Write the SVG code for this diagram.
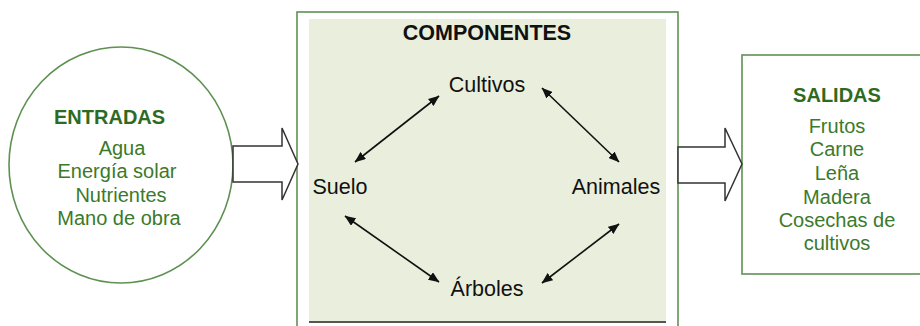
<svg xmlns="http://www.w3.org/2000/svg" width="920" height="326" viewBox="0 0 920 326">
<defs>
<marker id="ah" viewBox="0 0 11 9" refX="10.5" refY="4.5" markerWidth="11" markerHeight="9" markerUnits="userSpaceOnUse" orient="auto-start-reverse">
<path d="M0,0 L11,4.5 L0,9 Z" fill="#111"/>
</marker>
<style>
.g{font-family:"Liberation Sans",Arial,sans-serif;font-size:20px;fill:#3b7a2a;text-anchor:middle}
.gh{font-family:"Liberation Sans",Arial,sans-serif;font-size:20px;font-weight:bold;fill:#2e6b22}
.c{font-family:"Liberation Sans",Arial,sans-serif;font-size:21.5px;fill:#111;text-anchor:middle}
.border{fill:none;stroke:#5d9150;stroke-width:1.6}
.blk{fill:#fff;stroke:#333;stroke-width:1.5;stroke-linejoin:miter}
.lnk{stroke:#111;stroke-width:1.6;fill:none;marker-start:url(#ah);marker-end:url(#ah)}
</style>
</defs>
<rect width="920" height="326" fill="#fff"/>

<g id="entradas">
<ellipse cx="121" cy="165" rx="112" ry="118" fill="#fff" class="border"/>
<text class="gh" x="54" y="124">ENTRADAS</text>
<text class="g" x="122" y="155">Agua</text>
<text class="g" x="117" y="178">Energía solar</text>
<text class="g" x="121" y="202">Nutrientes</text>
<text class="g" x="119" y="225">Mano de obra</text>
</g>

<g id="componentes">
<rect x="297" y="12" width="381" height="330" fill="#fff" class="border"/>
<rect x="309" y="19" width="357" height="303" fill="#e9efdc"/>
<line x1="309" y1="322" x2="666" y2="322" stroke="#555" stroke-width="2"/>
<text x="487" y="40" font-family="'Liberation Sans',Arial,sans-serif" font-size="21.5" font-weight="bold" fill="#111" text-anchor="middle">COMPONENTES</text>
</g>

<g id="cultivos"><text class="c" x="487" y="92">Cultivos</text></g>
<g id="suelo"><text class="c" x="340" y="194">Suelo</text></g>
<g id="animales"><text class="c" x="616" y="194">Animales</text></g>
<g id="arboles"><text class="c" x="487" y="296">Árboles</text></g>

<g id="salidas">
<rect x="742" y="55" width="190" height="219" fill="#fff" class="border"/>
<text class="gh" x="837" y="102" text-anchor="middle">SALIDAS</text>
<text class="g" x="837" y="133">Frutos</text>
<text class="g" x="837" y="156">Carne</text>
<text class="g" x="837" y="180">Leña</text>
<text class="g" x="837" y="204">Madera</text>
<text class="g" x="837" y="227">Cosechas de</text>
<text class="g" x="837" y="250">cultivos</text>
</g>

<g id="connectors">
<polygon class="blk" points="233,146 282,146 282,128 298,164 282,200 282,182 233,182"/>
<polygon class="blk" points="678,147 725,147 725,128 742,164 725,201 725,183 678,183"/>
<line class="lnk" x1="355" y1="162" x2="439" y2="96"/>
<line class="lnk" x1="542" y1="88" x2="619" y2="162"/>
<line class="lnk" x1="345" y1="216" x2="439" y2="282"/>
<line class="lnk" x1="619" y1="224" x2="542" y2="283"/>
</g>
</svg>
